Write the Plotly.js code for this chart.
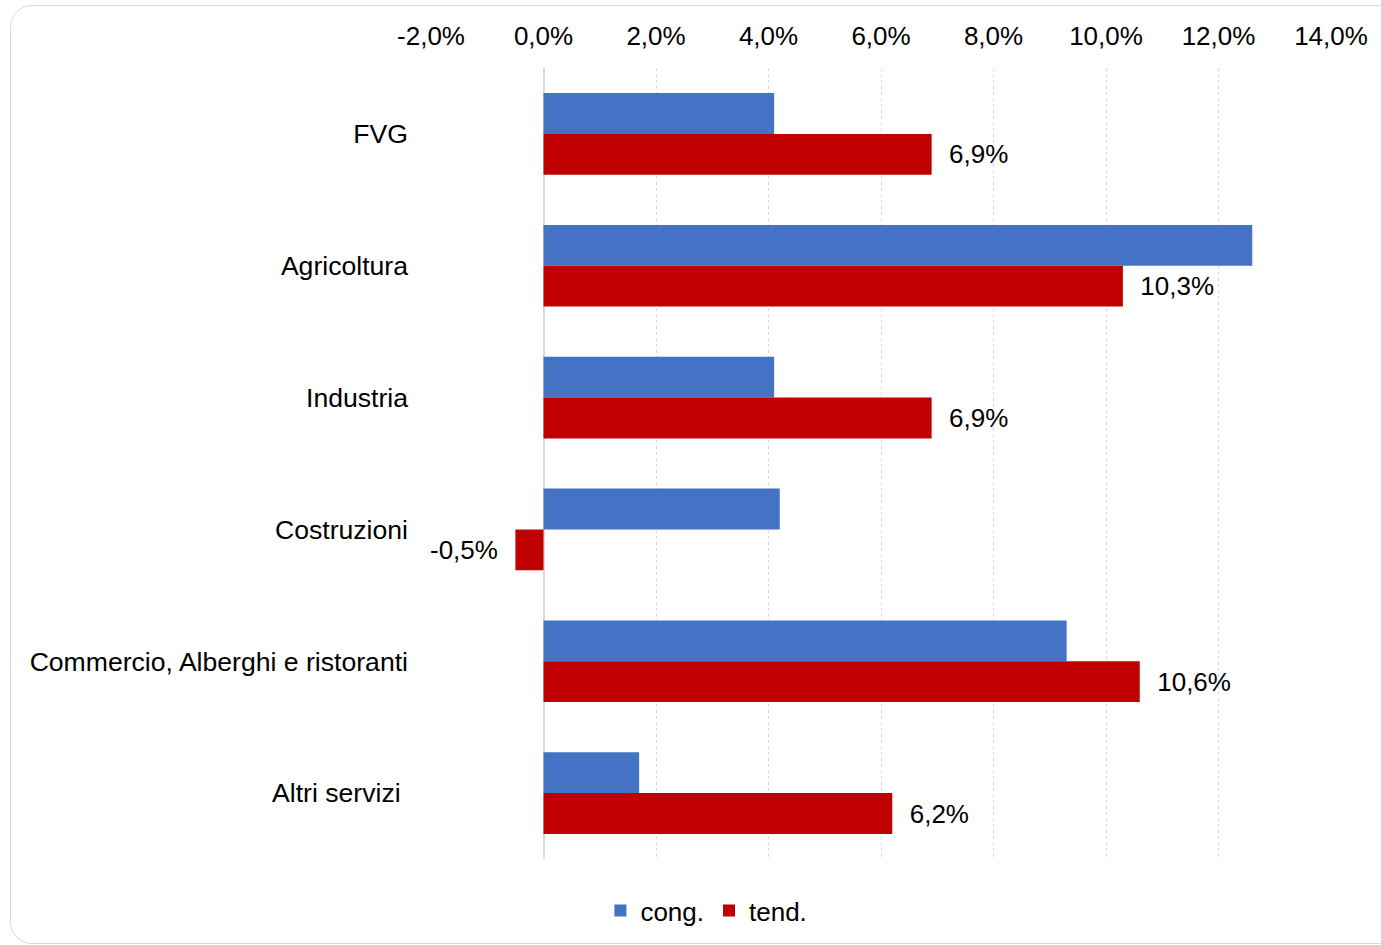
<!DOCTYPE html>
<html><head><meta charset="utf-8">
<script src="https://cdn.plot.ly/plotly-3.0.1.min.js"></script>
<style>
html,body{margin:0;padding:0;background:#fff;}
#frame{position:absolute;left:10px;top:5px;width:1390px;height:939px;border:1.5px solid #d9d9d9;border-radius:22px;box-sizing:border-box;}
#chart{position:absolute;left:0;top:0;width:1381px;height:945px;}
</style></head>
<body>
<div id="frame"></div>
<div id="chart"></div>
<script>
const categories = ["FVG","Agricoltura","Industria","Costruzioni","Commercio, Alberghi e ristoranti","Altri servizi\u00a0"];
const congValues = [4.1, 12.6, 4.1, 4.2, 9.3, 1.7];
const tendValues = [6.9, 10.3, 6.9, -0.5, 10.6, 6.2];
const tickValues = [-2,0,2,4,6,8,10,12,14];
const tickLabels = ["-2,0%","0,0%","2,0%","4,0%","6,0%","8,0%","10,0%","12,0%","14,0%"];

const fmt = v => v.toFixed(1).replace('.', ',') + '%';
const pad = '\u00a0\u00a0';
const tendText = tendValues.map(v => v >= 0 ? pad + fmt(v) : fmt(v) + pad);

const font = {family: 'Liberation Sans, Arial, sans-serif', size: 26, color: '#000'};
const catFont = {family: 'Liberation Sans, Arial, sans-serif', size: 26.6, color: '#000'};

const traces = [
  {type:'bar', orientation:'h', name:'cong.', y:categories, x:congValues,
   marker:{color:'#4472C4'}, hoverinfo:'none'},
  {type:'bar', orientation:'h', name:'tend.', y:categories, x:tendValues,
   marker:{color:'#C00000'}, text:tendText, textposition:'outside',
   textfont:font, cliponaxis:false, hoverinfo:'none'}
];

const layout = {
  width:1381, height:945,
  paper_bgcolor:'rgba(0,0,0,0)', plot_bgcolor:'rgba(0,0,0,0)',
  margin:{l:431, r:50, t:68, b:85},
  separators:',.',
  font:font,
  barmode:'group', bargap:0.38, bargroupgap:0,
  showlegend:true,
  legend:{orientation:'h', x:0.306, xanchor:'center', y:-0.064, yanchor:'middle',
          font:font, itemwidth:30, traceorder:'normal'},
  xaxis:{side:'top', range:[-2,14], tickmode:'array', tickvals:tickValues, ticktext:tickLabels,
         showgrid:true, gridcolor:'#d9d9d9', griddash:'dot', gridwidth:1,
         zeroline:true, zerolinecolor:'#d9d9d9', zerolinewidth:2,
         showline:false, ticks:'', tickfont:font, ticklabelstandoff:17, fixedrange:true},
  yaxis:{autorange:'reversed', showgrid:false, zeroline:false, showline:false, ticks:'',
         tickfont:catFont, ticklabelstandoff:22, fixedrange:true}
};

Plotly.newPlot('chart', traces, layout, {staticPlot:true});
</script>
</body></html>
